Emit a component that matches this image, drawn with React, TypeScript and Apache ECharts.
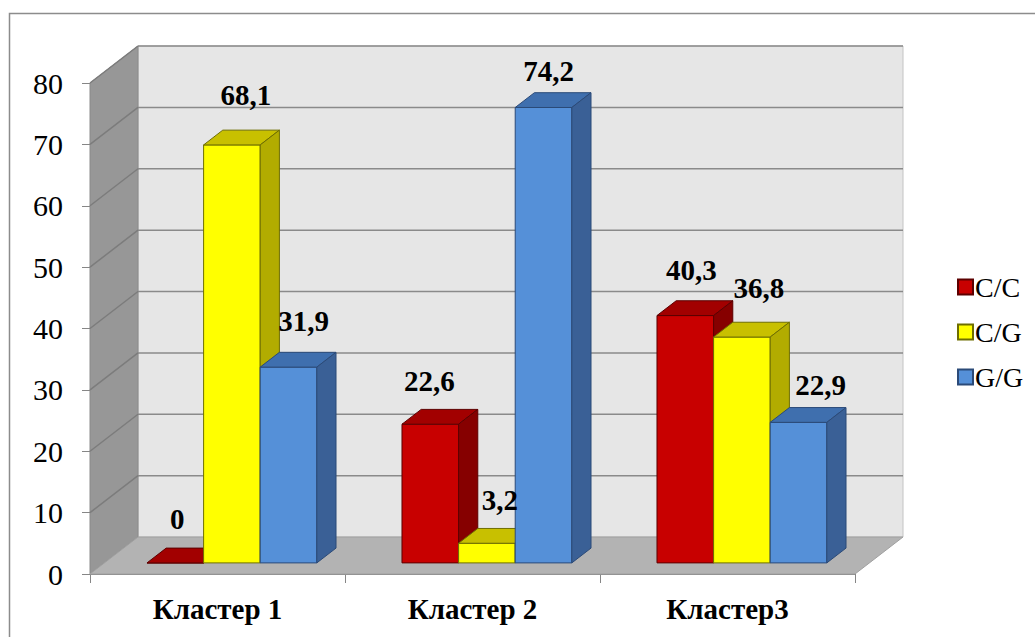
import React, { useEffect, useRef } from "react";
import * as echarts from "echarts";

// ---- data ----
const CATEGORIES = ["Кластер 1", "Кластер 2", "Кластер3"];
const SERIES_NAMES = ["C/C", "C/G", "G/G"];
const CC = [0, 22.6, 40.3];
const CG = [68.1, 3.2, 36.8];
const GG = [31.9, 74.2, 22.9];
const SERIES_VALUES = [CC, CG, GG];
const Y_MIN = 0;
const Y_MAX = 80;
const Y_STEP = 10;

// ---- styles ----
const SERIF = "Liberation Serif";
const FACES = [
  { front: "#c80000", top: "#a20000", side: "#860000", edge: "#5c0000" },
  { front: "#ffff00", top: "#c8c000", side: "#b2ac00", edge: "#6e6e00" },
  { front: "#5590d8", top: "#3f6fae", side: "#3a6096", edge: "#2b4a78" },
];
// label nudges (dx from bar-front centre, dy from bar-back top)
const LABEL_NUDGE = [
  [[2, -29], [-1, -28], [6, -31]],
  [[14, -35], [13, -28], [17, -34]],
  [[15, -31], [5, -22], [22, -23]],
];
const DEPTH_X = 48;
const DEPTH_Y = -37;
const BAR_DEPTH_START = 0.3;
const BAR_DEPTH = 0.4;
const BAR_WIDTH_RATIO = 0.222;

const fmt = (v: number) => String(v).replace(".", ",");

function wallsRender(params: any, api: any) {
  const cs = params.coordSys;
  const x0 = cs.x;
  const yTop = cs.y;
  const w = cs.width;
  const yBot = cs.y + cs.height;
  const children: any[] = [];
  children.push({
    type: "rect",
    shape: { x: x0 + DEPTH_X, y: yTop + DEPTH_Y, width: w, height: cs.height },
    style: { fill: "#e6e6e6", stroke: "#c4c4c4", lineWidth: 1 },
  });
  children.push({
    type: "polygon",
    shape: {
      points: [
        [x0, yTop],
        [x0 + DEPTH_X, yTop + DEPTH_Y],
        [x0 + DEPTH_X, yBot + DEPTH_Y],
        [x0, yBot],
      ],
    },
    style: { fill: "#979797", stroke: "#8a8a8a", lineWidth: 1 },
  });
  children.push({
    type: "polygon",
    shape: {
      points: [
        [x0, yBot],
        [x0 + w, yBot],
        [x0 + w + DEPTH_X, yBot + DEPTH_Y],
        [x0 + DEPTH_X, yBot + DEPTH_Y],
      ],
    },
    style: { fill: "#b3b3b3", stroke: "#a0a0a0", lineWidth: 1 },
  });
  for (let v = Y_MIN + Y_STEP; v <= Y_MAX; v += Y_STEP) {
    const y = api.coord([0, v])[1];
    children.push({
      type: "line",
      shape: { x1: x0 + DEPTH_X, y1: y + DEPTH_Y, x2: x0 + w + DEPTH_X, y2: y + DEPTH_Y },
      style: { stroke: "#8a8a8a", lineWidth: 1.5 },
    });
    children.push({
      type: "line",
      shape: { x1: x0, y1: y, x2: x0 + DEPTH_X, y2: y + DEPTH_Y },
      style: { stroke: "#7c7c7c", lineWidth: 1.5 },
    });
  }
  return { type: "group", children };
}

function barRender(si: number) {
  return (params: any, api: any) => {
    const cat = api.value(0);
    const val = api.value(1);
    const p0 = api.coord([cat, 0]);
    const p1 = api.coord([cat, val]);
    const band = api.size([1, 0])[0];
    const w = band * BAR_WIDTH_RATIO;
    const ox = DEPTH_X * BAR_DEPTH_START;
    const oy = DEPTH_Y * BAR_DEPTH_START;
    const dx = DEPTH_X * BAR_DEPTH;
    const dy = DEPTH_Y * BAR_DEPTH;
    const xl = p0[0] + ox + (si - 1.5) * w;
    const xr = xl + w;
    const yb = p0[1] + oy;
    const yt = p1[1] + oy;
    const f = FACES[si];
    const nudge = LABEL_NUDGE[si][params.dataIndex];
    const children: any[] = [
      {
        type: "polygon",
        shape: { points: [[xl, yt], [xr, yt], [xr, yb], [xl, yb]] },
        style: { fill: f.front, stroke: f.edge, lineWidth: 1 },
      },
      {
        type: "polygon",
        shape: { points: [[xl, yt], [xr, yt], [xr + dx, yt + dy], [xl + dx, yt + dy]] },
        style: { fill: f.top, stroke: f.edge, lineWidth: 1 },
      },
      {
        type: "polygon",
        shape: { points: [[xr, yt], [xr + dx, yt + dy], [xr + dx, yb + dy], [xr, yb]] },
        style: { fill: f.side, stroke: f.edge, lineWidth: 1 },
      },
      {
        type: "text",
        z2: 100,
        style: {
          x: (xl + xr) / 2 + nudge[0],
          y: yt + dy + nudge[1],
          text: fmt(val),
          fill: "#000",
          fontFamily: SERIF,
          fontWeight: "bold",
          fontSize: 29,
          align: "center",
          verticalAlign: "middle",
        },
      },
    ];
    return { type: "group", children };
  };
}

export default function App() {
  const ref = useRef<HTMLDivElement>(null);
  useEffect(() => {
    if (!ref.current) return;
    const chart = echarts.init(ref.current, undefined, { renderer: "svg" });
    const series: any[] = [
      {
        type: "custom",
        name: "walls",
        z: 1,
        coordinateSystem: "cartesian2d",
        renderItem: wallsRender,
        data: [[0, 0]],
        encode: { x: 0, y: 1 },
        silent: true,
      },
    ];
    SERIES_VALUES.forEach((vals, si) => {
      series.push({
        type: "custom",
        name: SERIES_NAMES[si],
        z: 2,
        coordinateSystem: "cartesian2d",
        renderItem: barRender(si),
        itemStyle: { color: FACES[si].front, borderColor: FACES[si].edge, borderWidth: 1 },
        data: vals.map((v, i) => [i, v]),
        encode: { x: 0, y: 1 },
      });
    });
    chart.setOption({
      animation: false,
      backgroundColor: "#ffffff",
      grid: { left: 90, right: 180, top: 83, bottom: 63, containLabel: false },
      xAxis: {
        type: "category",
        data: CATEGORIES,
        boundaryGap: true,
        axisLine: { show: true, lineStyle: { color: "#868686", width: 1 } },
        axisTick: { show: true, length: 9, alignWithLabel: false, interval: 0, lineStyle: { color: "#868686" } },
        axisLabel: {
          interval: 0,
          margin: 20,
          color: "#000",
          fontFamily: SERIF,
          fontWeight: "bold",
          fontSize: 29,
        },
        splitLine: { show: false },
      },
      yAxis: {
        type: "value",
        min: Y_MIN,
        max: Y_MAX,
        interval: Y_STEP,
        axisLine: { show: true, lineStyle: { color: "#868686", width: 1 } },
        axisTick: { show: true, length: 8, lineStyle: { color: "#868686" } },
        axisLabel: { margin: 27, color: "#000", fontFamily: SERIF, fontSize: 30 },
        splitLine: { show: false },
      },
      legend: {
        data: SERIES_NAMES,
        orient: "vertical",
        left: 952,
        top: 268,
        icon: "rect",
        itemWidth: 15,
        itemHeight: 15,
        itemGap: 17,
        textStyle: { color: "#000", fontFamily: SERIF, fontSize: 28, padding: [0, 0, 0, -3] },
        selectedMode: false,
      },
      graphic: [
        {
          type: "rect",
          shape: { x: 9.5, y: 13.5, width: 1100, height: 700 },
          style: { fill: "none", stroke: "#8c8c8c", lineWidth: 1.5 },
          silent: true,
        },
      ],
      series,
    });
    return () => chart.dispose();
  }, []);
  return (
    <div
      ref={ref}
      style={{ position: "fixed", left: 0, top: 0, width: 1035, height: 637 }}
    />
  );
}
